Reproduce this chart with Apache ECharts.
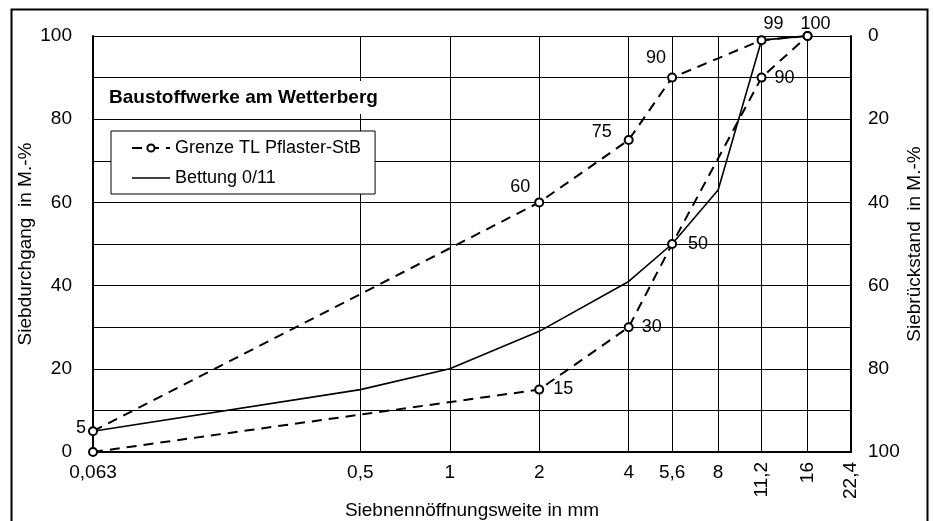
<!DOCTYPE html>
<html>
<head>
<meta charset="utf-8">
<script src="https://cdn.jsdelivr.net/npm/echarts@6/dist/echarts.min.js"></script>
<style>
html,body{margin:0;padding:0;background:#fff;}
#chart{width:934px;height:521px;}
</style>
</head>
<body>
<div id="chart"></div>
<script>
// ---- data ----
const sieveSizes = [0.063, 0.5, 1, 2, 4, 5.6, 8, 11.2, 16, 22.4];
const flatLabelSizes = [0.063, 0.5, 1, 2, 4, 5.6, 8];
const rotatedLabelSizes = [11.2, 16, 22.4];
const limitSizes = [0.063, 2, 4, 5.6, 11.2, 16];
const upperLimit = [5, 60, 75, 90, 99, 100];
const lowerLimit = [0, 15, 30, 50, 90, 100];
const bettungSizes = [0.063, 0.5, 1, 2, 4, 5.6, 8, 11.2, 16];
const bettungValues = [5, 15, 20, 29, 41, 50, 63, 99, 100];
const leftLabels = [0, 20, 40, 60, 80, 100];

// ---- layout / style config (not data) ----
const upperLabelOffsets = [[-12, -3], [-19, -15], [-27, -8], [-16, -20], [12, -16], [8, -12]];
const lowerLabelOffsets = [null, [24, -1], [23, 0], [26, 0], [23, 0], null];

const FONT = "'Liberation Sans', Arial, sans-serif";
const FS = 19;
const lg = v => Math.log10(v);
const fmtSize = v => {
  const s = sieveSizes.find(x => Math.abs(lg(x) - v) < 1e-6);
  return s === undefined ? '' : String(s).replace('.', ',');
};

function limitData(values, offsets) {
  return values.map((v, i) => ({
    value: [lg(limitSizes[i]), v],
    label: offsets[i] ? { show: true, position: 'inside', offset: offsets[i] } : { show: false }
  }));
}

const chart = echarts.init(document.getElementById('chart'), null, { renderer: 'canvas' });
const xMin = lg(sieveSizes[0]), xMax = lg(sieveSizes[sieveSizes.length - 1]);

const option = {
  animation: false,
  backgroundColor: '#fff',
  textStyle: { fontFamily: FONT, color: '#000' },
  title: {
    text: 'Baustoffwerke am Wetterberg',
    left: 103, top: 81,
    padding: [7, 6, 7, 6],
    backgroundColor: '#fff',
    textStyle: { fontFamily: FONT, fontSize: 19, fontWeight: 'bold', color: '#000' }
  },
  legend: {
    orient: 'vertical',
    left: 111, top: 131,
    padding: [8, 14, 7, 20],
    itemGap: 12,
    itemWidth: 38, itemHeight: 9,
    backgroundColor: '#fff',
    borderColor: '#000', borderWidth: 1,
    textStyle: { fontFamily: FONT, fontSize: 18, color: '#000' },
    data: [
      { name: 'Grenze TL Pflaster-StB' },
      { name: 'Bettung 0/11', icon: 'path://M0,0H38V1.5H0Z' }
    ]
  },
  graphic: [{
    type: 'rect', left: 9, top: 7, z: 100,
    shape: { width: 916, height: 530 },
    style: { fill: 'none', stroke: '#000', lineWidth: 2 }
  }],
  grid: { left: 93, right: 83, top: 36, bottom: 69, outerBoundsMode: 'none', containLabel: false },
  xAxis: [{
    type: 'value', min: xMin, max: xMax,
    name: 'Siebnennöffnungsweite in mm',
    nameLocation: 'middle', nameGap: 49, nameMoveOverlap: false,
    nameTextStyle: { fontFamily: FONT, fontSize: FS, color: '#000' },
    axisLine: { show: true, onZero: false, lineStyle: { color: '#000', width: 2 } },
    axisTick: { show: false, customValues: sieveSizes.map(lg) },
    axisLabel: {
      customValues: flatLabelSizes.map(lg), formatter: fmtSize,
      fontFamily: FONT, fontSize: FS, color: '#000', margin: 11
    },
    splitLine: { show: true, lineStyle: { color: '#000', width: 1 } }
  }, {
    type: 'value', min: xMin, max: xMax, position: 'bottom',
    axisLine: { show: false, onZero: false }, axisTick: { show: false }, splitLine: { show: false },
    axisLabel: {
      customValues: rotatedLabelSizes.map(lg), formatter: fmtSize, rotate: 90,
      fontFamily: FONT, fontSize: FS, color: '#000', margin: 10
    }
  }],
  yAxis: [{
    type: 'value', min: 0, max: 100, interval: 10, position: 'left',
    name: 'Siebdurchgang  in M.-%',
    nameLocation: 'middle', nameGap: 58, nameMoveOverlap: false,
    nameTextStyle: { fontFamily: FONT, fontSize: FS, color: '#000' },
    axisLine: { show: true, onZero: false, lineStyle: { color: '#000', width: 2 } },
    axisTick: { show: false },
    axisLabel: {
      formatter: v => leftLabels.includes(v) ? String(v) : '',
      fontFamily: FONT, fontSize: FS, color: '#000', margin: 21
    },
    splitLine: { show: true, lineStyle: { color: '#000', width: 1 } }
  }, {
    type: 'value', min: 0, max: 100, interval: 20, inverse: true, position: 'right',
    name: 'Siebrückstand  in M.-%',
    nameLocation: 'middle', nameGap: 54, nameRotate: 90, nameMoveOverlap: false,
    nameTextStyle: { fontFamily: FONT, fontSize: FS, color: '#000' },
    axisLine: { show: true, onZero: false, lineStyle: { color: '#000', width: 2 } },
    axisTick: { show: false },
    axisLabel: { fontFamily: FONT, fontSize: FS, color: '#000', margin: 17 },
    splitLine: { show: false }
  }],
  series: [{
    name: 'Grenze TL Pflaster-StB', type: 'line', xAxisIndex: 0, yAxisIndex: 0,
    data: limitData(upperLimit, upperLabelOffsets),
    symbol: 'emptyCircle', symbolSize: 8, z: 3,
    itemStyle: { color: '#000', borderWidth: 1 },
    lineStyle: { color: '#000', width: 2, type: [10, 7] },
    label: { fontFamily: FONT, fontSize: 18, color: '#000', formatter: p => p.value[1] }
  }, {
    name: 'Grenze TL Pflaster-StB', type: 'line', xAxisIndex: 0, yAxisIndex: 0,
    data: limitData(lowerLimit, lowerLabelOffsets),
    symbol: 'emptyCircle', symbolSize: 8, z: 3,
    itemStyle: { color: '#000', borderWidth: 1 },
    lineStyle: { color: '#000', width: 2, type: [10, 7] },
    label: { fontFamily: FONT, fontSize: 18, color: '#000', formatter: p => p.value[1] }
  }, {
    name: 'Bettung 0/11', type: 'line', xAxisIndex: 0, yAxisIndex: 0,
    data: bettungSizes.map((s, i) => [lg(s), bettungValues[i]]),
    symbol: 'none', z: 2,
    lineStyle: { color: '#000', width: 1.6 },
    itemStyle: { color: '#000' }
  }]
};
chart.setOption(option);
</script>
</body>
</html>
